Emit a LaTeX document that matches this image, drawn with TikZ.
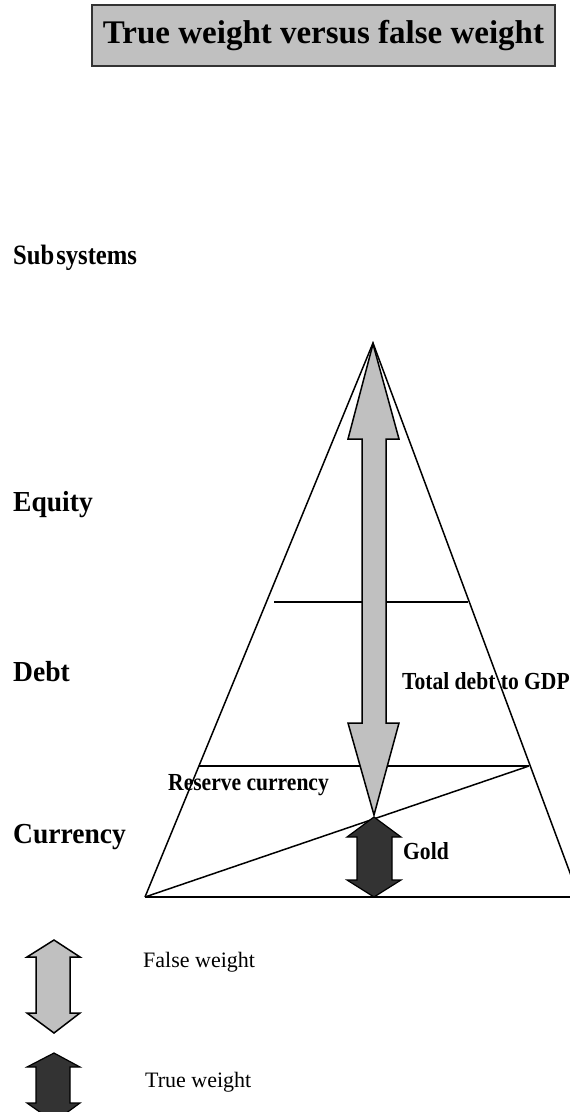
\documentclass[tikz,border=0pt]{standalone}
\usepackage{fontspec}
\setmainfont{Liberation Serif}
\newfontfamily\cond[FakeStretch=0.88]{Liberation Serif}
\newfontfamily\condb[FakeStretch=0.95]{Liberation Serif}
\definecolor{lgray}{HTML}{C0C0C0}
\definecolor{dgray}{HTML}{333333}
\tikzset{
  lbl/.style={anchor=west, inner sep=0pt, font=\condb\bfseries\fontsize{29}{31}\selectfont},
  sublbl/.style={anchor=west, inner sep=0pt, font=\cond\bfseries\fontsize{28}{30}\selectfont},
  smlbl/.style={anchor=west, inner sep=0pt, font=\cond\bfseries\fontsize{24.5}{26}\selectfont},
  leg/.style={anchor=west, inner sep=0pt, font=\fontsize{22}{24}\selectfont},
  edge/.style={line width=1.5pt, black},
  falsearrow/.style={fill=lgray, draw=black, line width=1.5pt, line join=miter},
  truearrow/.style={fill=dgray, draw=black, line width=1.2pt, line join=miter}
}
\begin{document}
\begin{tikzpicture}[x=1pt,y=-1pt]
\useasboundingbox (0,0) rectangle (570,1112);
% title
\node[draw=black!80, line width=1.5pt, fill=lgray, minimum width=463pt, minimum height=61pt, inner sep=0pt,
  font=\bfseries\fontsize{33}{35}\selectfont] (title) at (323.5,35.5) {True weight versus false weight};
% left labels
\node[sublbl] (sub) at (13,258) {Sub\hspace{2pt}systems};
\node[lbl] (eq) at (13,505) {Equity};
\node[lbl] (debt) at (13,672) {Debt};
\node[lbl] (cur) at (13,837) {Currency};
% pyramid
\coordinate (apex) at (373,343);
\coordinate (bl) at (145,897);
\coordinate (br) at (579,897);
\coordinate (l1a) at (274,602);
\coordinate (l1b) at (468,602);
\coordinate (l2a) at (199,766);
\coordinate (l2b) at (529,766);
\draw[edge] (bl) -- (apex) -- (br);
\draw[edge] (bl) -- (570,897);
\draw[edge] (l1a) -- (l1b);
\draw[edge] (l2a) -- (l2b);
\draw[edge] (bl) -- (l2b);
% big false weight arrow
\draw[falsearrow] (373,344) -- (399,439) -- (386,439) -- (386,723) -- (399,723) -- (374,815)
  -- (348,723) -- (362,723) -- (362,439) -- (348,439) -- cycle;
% gold true weight arrow
\draw[truearrow] (374,817) -- (401,837) -- (392,837) -- (392,880) -- (401,880) -- (374,897)
  -- (347,880) -- (357,880) -- (357,837) -- (347,837) -- cycle;
% inner labels
\node[smlbl] (tdg) at (402,681) {Total debt to GDP};
\node[smlbl] (res) at (168,785) {Reserve currency};
\node[smlbl] (gold) at (403,851) {Gold};
% legend
\draw[falsearrow] (54,940) -- (80,957) -- (70,957) -- (70,1013) -- (80,1013) -- (54,1033)
  -- (27,1013) -- (36,1013) -- (36,957) -- (27,957) -- cycle;
\draw[truearrow] (54,1053) -- (80,1067) -- (70,1067) -- (70,1103) -- (80,1103) -- (54,1122)
  -- (27,1103) -- (36,1103) -- (36,1067) -- (27,1067) -- cycle;
\node[leg] (fw) at (143,962) {False weight};
\node[leg] (tw) at (145,1082) {True weight};
\end{tikzpicture}
\end{document}
